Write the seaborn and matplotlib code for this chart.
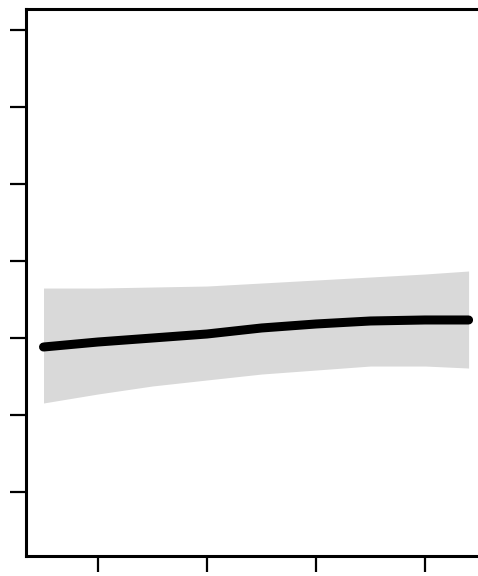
import numpy as np
import pandas as pd
import matplotlib
matplotlib.use("Agg")
import matplotlib.pyplot as plt
import seaborn as sns

# --- data ---
x_vals = [0.5, 1.0, 1.5, 2.0, 2.5, 3.0, 3.5, 4.0, 4.4]
fit = [2.883, 2.948, 3.000, 3.052, 3.130, 3.182, 3.221, 3.234, 3.234]
upper = [3.649, 3.649, 3.662, 3.675, 3.714, 3.753, 3.792, 3.831, 3.870]
lower = [2.156, 2.273, 2.377, 2.455, 2.532, 2.584, 2.636, 2.636, 2.610]
x_ticks = [1, 2, 3, 4]
y_ticks = [1, 2, 3, 4, 5, 6, 7]

df = pd.DataFrame({"x": x_vals, "fit": fit, "upper": upper, "lower": lower})

sns.set_style("ticks")
fig = plt.figure(figsize=(4.78, 5.76), dpi=100)
ax = fig.add_axes([26 / 478, 20 / 576, 1 - 26 / 478, 547 / 576])

ax.fill_between(df["x"], df["lower"], df["upper"], color="#d9d9d9", linewidth=0)
sns.lineplot(data=df, x="x", y="fit", ax=ax, color="black", linewidth=6.5,
             solid_capstyle="round")

ax.set_xlim(1 - 72 / 109, 4 + 53 / 109)
ax.set_ylim(1 - 64 / 77, 7 + 21 / 77)
ax.set_xticks(x_ticks)
ax.set_yticks(y_ticks)
ax.set_xticklabels([])
ax.set_yticklabels([])
ax.set_xlabel("")
ax.set_ylabel("")

for side in ["left", "bottom", "top"]:
    ax.spines[side].set_linewidth(2.2)
    ax.spines[side].set_color("black")
ax.spines["right"].set_visible(False)
ax.tick_params(axis="both", direction="out", length=11.5, width=1.6, color="black")

fig.savefig("out.png", dpi=100)
